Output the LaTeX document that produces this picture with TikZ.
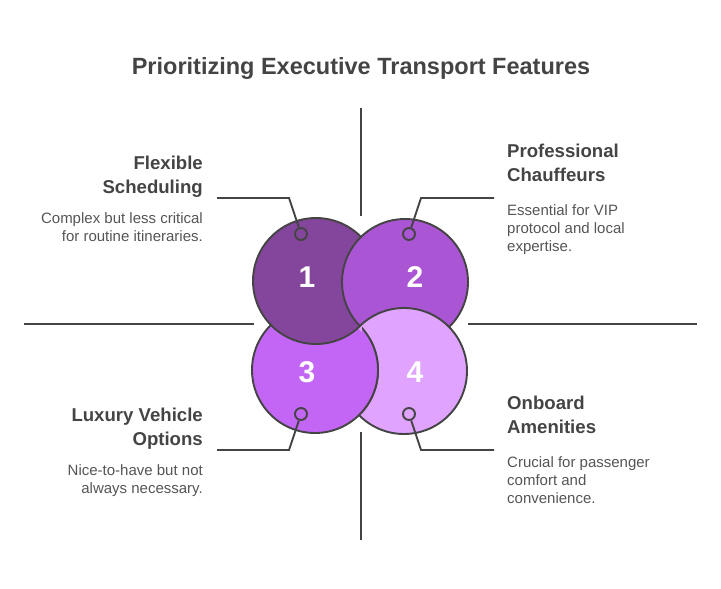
\documentclass[tikz,border=0pt]{standalone}
\usepackage{fontspec}
\setmainfont{Liberation Sans}
\definecolor{inkdark}{HTML}{444444}
\definecolor{inkbody}{HTML}{555555}
\definecolor{petalone}{HTML}{84469C}
\definecolor{petaltwo}{HTML}{AA55D3}
\definecolor{petalthree}{HTML}{C466F5}
\definecolor{petalfour}{HTML}{E0A3FF}
\tikzset{
  petal/.style={circle, draw=inkdark, line width=1.9pt, minimum size=126pt, inner sep=0pt},
  dot/.style={circle, draw=inkdark, line width=1.9pt, minimum size=12pt, inner sep=0pt},
  axis/.style={draw=inkdark, line width=1.9pt},
  lead/.style={draw=inkdark, line width=1.9pt},
  num/.style={white, font=\fontsize{30}{30}\selectfont\bfseries},
  head/.style={inkdark, inner sep=0pt, font=\fontsize{18.6}{24}\selectfont\bfseries},
  body/.style={inkbody, inner sep=0pt, font=\fontsize{15}{18}\selectfont},
}
\begin{document}
\begin{tikzpicture}[x=1pt,y=-1pt]
\useasboundingbox (0,0) rectangle (721,589);

\node[inkdark, font=\fontsize{23.5}{30}\selectfont\bfseries] (title) at (361,68) {Prioritizing Executive Transport Features};

% cross
\coordinate (north1) at (361,108);
\coordinate (north2) at (361,216);
\coordinate (south1) at (361,432);
\coordinate (south2) at (361,540);
\coordinate (west1) at (24,324);
\coordinate (west2) at (254,324);
\coordinate (east1) at (468,324);
\coordinate (east2) at (697,324);
\draw[axis] (north1) -- (north2);
\draw[axis] (south1) -- (south2);
\draw[axis] (west1) -- (west2);
\draw[axis] (east1) -- (east2);

% petals
\node[petal, fill=petalfour] (c4) at (404,371) {};
\node[petal, fill=petalthree] (c3) at (315,370) {};
\node[petal, fill=petalone] (c1) at (316,281) {};
\node[petal, fill=petaltwo] (c2) at (405,282) {};
\begin{scope}
  \clip (c2.center) circle (66);
  \node[petal, fill=petalfour] at (c4.center) {};
\end{scope}
\begin{scope}
  \clip (362,327) rectangle (385,420);
  \node[petal, fill=petalthree] at (c3.center) {};
\end{scope}

\node[num] (n1) at (307,277) {1};
\node[num] (n2) at (415,277) {2};
\node[num] (n3) at (307,372) {3};
\node[num] (n4) at (415,372) {4};

% leaders
\node[dot] (d1) at (301,234) {};
\node[dot] (d2) at (409,234) {};
\node[dot] (d3) at (301,414) {};
\node[dot] (d4) at (409,414) {};
\coordinate (s1) at (217,198);
\coordinate (e1) at (289,198);
\coordinate (s2) at (494,198);
\coordinate (e2) at (421,198);
\coordinate (s3) at (217,450);
\coordinate (e3) at (289,450);
\coordinate (s4) at (494,450);
\coordinate (e4) at (421,450);
\draw[lead] (s1) -- (e1) -- (d1);
\draw[lead] (s2) -- (e2) -- (d2);
\draw[lead] (s3) -- (e3) -- (d3);
\draw[lead] (s4) -- (e4) -- (d4);

% labels
\node[head, anchor=north east, align=right] (h1) at (203,156) {Flexible\\Scheduling};
\node[body, anchor=north east, align=right] (b1) at (203,212) {Complex but less critical\\for routine itineraries.};
\node[head, anchor=north west, align=left] (h2) at (507,144) {Professional\\Chauffeurs};
\node[body, anchor=north west, align=left] (b2) at (507,204) {Essential for VIP\\protocol and local\\expertise.};
\node[head, anchor=north east, align=right] (h3) at (203,408) {Luxury Vehicle\\Options};
\node[body, anchor=north east, align=right] (b3) at (203,464) {Nice-to-have but not\\always necessary.};
\node[head, anchor=north west, align=left] (h4) at (507,396) {Onboard\\Amenities};
\node[body, anchor=north west, align=left] (b4) at (507,456) {Crucial for passenger\\comfort and\\convenience.};
\end{tikzpicture}
\end{document}
